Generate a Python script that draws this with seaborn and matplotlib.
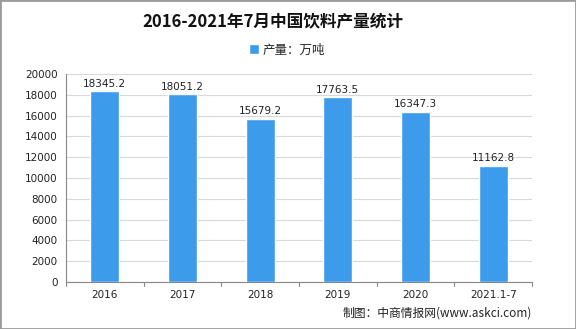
import matplotlib
matplotlib.use("Agg")
import matplotlib.pyplot as plt
import seaborn as sns
import pandas as pd
from matplotlib.patches import Rectangle

years = ["2016", "2017", "2018", "2019", "2020", "2021.1-7"]
output = [18345.2, 18051.2, 15679.2, 17763.5, 16347.3, 11162.8]
y_ticks = list(range(0, 20001, 2000))

sns.set_style("white")
plt.rcParams["font.family"] = ["Noto Sans CJK SC", "DejaVu Sans"]

df = pd.DataFrame({"年份": years, "产量": output})

fig = plt.figure(figsize=(5.76, 3.29), dpi=100)
ax = fig.add_axes([66 / 576, 1 - 282 / 329, 466 / 576, 208 / 329])

bar_color = "#3D9BEC"
sns.barplot(data=df, x="年份", y="产量", color=bar_color, width=0.37,
            saturation=1, ax=ax, label="产量：万吨", zorder=3)

ax.set_ylim(0, 20000)
ax.set_xlim(-0.5, len(years) - 0.5)
ax.set_yticks(y_ticks)
ax.set_yticklabels([str(t) for t in y_ticks], fontsize=7.5, color="#222222",
                   family="DejaVu Sans")
ax.set_xticks(range(len(years)))
ax.set_xticklabels(years, fontsize=7.5, color="#222222", family="DejaVu Sans")
ax.tick_params(axis="x", length=0, pad=6)
ax.tick_params(axis="y", length=4, width=0.8, color="#888888", direction="out", pad=2)
ax.set_xlabel("")
ax.set_ylabel("")

# category boundary ticks along the x axis
for b in range(len(years) + 1):
    ax.plot([b - 0.5, b - 0.5], [0, -400], color="#888888", lw=0.8,
            clip_on=False, zorder=4)

ax.yaxis.grid(True, color="#d9d9d9", lw=0.8, zorder=0)
ax.xaxis.grid(False)
for s in ["top", "right"]:
    ax.spines[s].set_visible(False)
ax.spines["left"].set_color("#888888")
ax.spines["bottom"].set_color("#888888")
ax.spines["left"].set_linewidth(0.8)
ax.spines["bottom"].set_linewidth(0.8)

for i, v in enumerate(output):
    ax.text(i, v + 250, f"{v:.1f}", ha="center", va="bottom", fontsize=7.5,
            color="#222222", family="DejaVu Sans")

fig.text(273 / 576, 1 - 21 / 329, "2016-2021年7月中国饮料产量统计", ha="center",
         va="center", fontsize=12, fontweight="bold", color="#111111")

legend_x = (287 - 66) / 466
leg = ax.legend(loc="center", bbox_to_anchor=(legend_x, 1 + (74 - 50) / 208),
                frameon=False, fontsize=9, handlelength=0.8, handleheight=0.8,
                handletextpad=0.3, borderaxespad=0)

fig.text(532 / 576, 1 - 313 / 329, "制图：中商情报网(www.askci.com)", ha="right",
         va="center", fontsize=8.5, color="#222222")

fig.patches.append(Rectangle((0, 0), 1, 1, transform=fig.transFigure,
                             fill=False, edgecolor="#9a9a9a", lw=2))

fig.savefig("out.png", dpi=100)
